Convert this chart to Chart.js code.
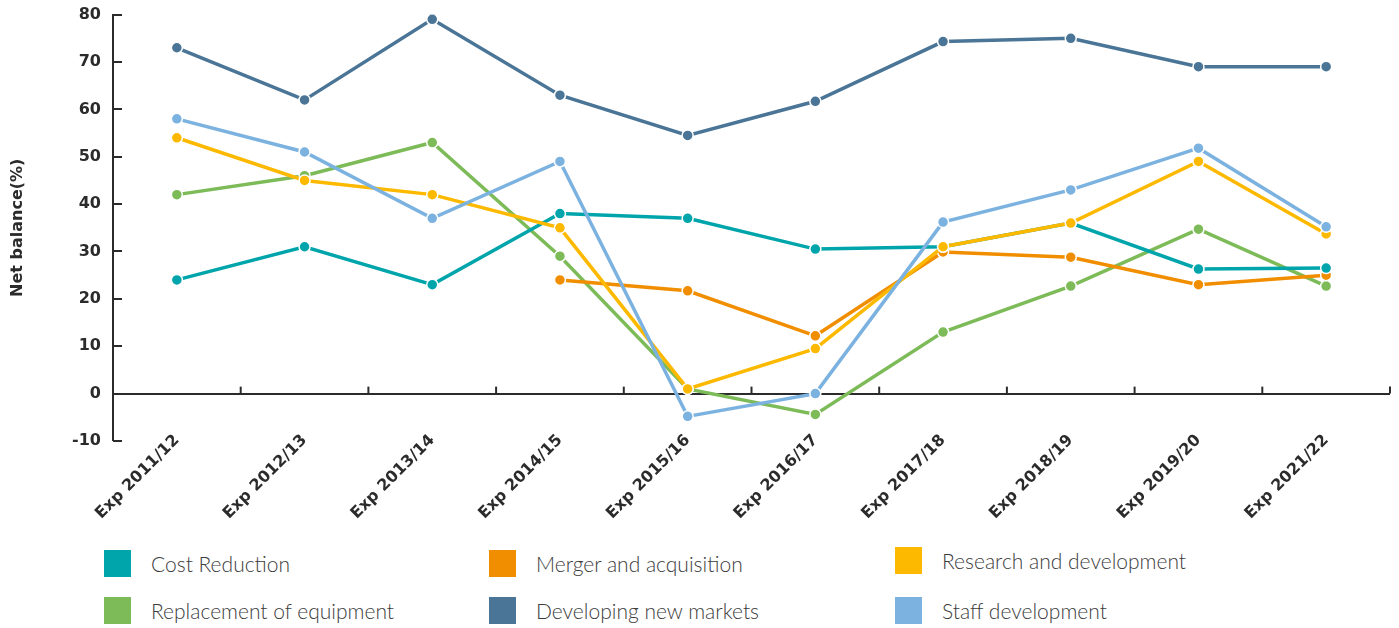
<!DOCTYPE html>
<html>
<head>
<meta charset="utf-8">
<script src="https://cdn.jsdelivr.net/npm/chart.js@4"></script>
<style>
  html, body { margin: 0; padding: 0; background: #fff; }
  #wrap { position: relative; width: 1399px; height: 547px; margin-top: -7px; }
  #legend { position: relative; width: 1399px; height: 88px; font-family: Lato, "Noto Sans", sans-serif; font-weight: 300; font-size: 21px; color: #3c3c3c; }
  .item { position: absolute; display: flex; align-items: center; }
  .sw { width: 27px; height: 27px; margin-right: 20px; }
</style>
</head>
<body>
<div id="wrap"><canvas id="chart"></canvas></div>
<div id="legend"></div>
<script>
// ===== data =====
const categories = ['Exp 2011/12','Exp 2012/13','Exp 2013/14','Exp 2014/15','Exp 2015/16','Exp 2016/17','Exp 2017/18','Exp 2018/19','Exp 2019/20','Exp 2021/22'];
const costReduction   = [24, 31, 23, 38, 37, 30.5, 31, 36, 26.3, 26.5];
const mergerAcq       = [null, null, null, 24, 21.7, 12.2, 29.9, 28.8, 23, 25];
const researchDev     = [54, 45, 42, 35, 1, 9.5, 31, 36, 49, 33.7];
const replacementEq   = [42, 46, 53, 29, 1, -4.4, 13, 22.7, 34.7, 22.7];
const newMarkets      = [73, 62, 79, 63, 54.5, 61.7, 74.3, 75, 69, 69];
const staffDev        = [58, 51, 37, 49, -4.8, 0, 36.2, 43, 51.8, 35.2];
const yTicks = [-10, 0, 10, 20, 30, 40, 50, 60, 70, 80];

const seriesNames  = ['Cost Reduction','Merger and acquisition','Research and development','Replacement of equipment','Developing new markets','Staff development'];
const seriesColors = ['#00a5ac','#f18e00','#fcb900','#7cbb58','#4a7596','#7bb2e0'];
const seriesData   = [costReduction, mergerAcq, researchDev, replacementEq, newMarkets, staffDev];

const FONT = '"DejaVu Sans", sans-serif';
const AXIS = '#2b2b2b';

// short tick marks: y ticks inside the left axis, x ticks above the zero line
const axisMarks = {
    id: 'axisMarks',
    afterDatasetsDraw(chart) {
        const ctx = chart.ctx, x = chart.scales.x, y = chart.scales.y;
        const ca = chart.chartArea;
        ctx.save();
        ctx.strokeStyle = AXIS;
        ctx.lineWidth = 2;
        yTicks.forEach(v => {
            const py = Math.round(y.getPixelForValue(v));
            ctx.beginPath(); ctx.moveTo(ca.left, py); ctx.lineTo(ca.left + 9, py); ctx.stroke();
        });
        const y0 = y.getPixelForValue(0);
        for (let i = 0; i < categories.length; i++) {
            const px = (x.getPixelForValue(i) + (i < categories.length - 1 ? x.getPixelForValue(i + 1) : 2 * x.getPixelForValue(i) - x.getPixelForValue(i - 1))) / 2;
            ctx.beginPath(); ctx.moveTo(px, y0); ctx.lineTo(px, y0 - 7); ctx.stroke();
        }
        ctx.restore();
    }
};

const ctx = document.getElementById('chart').getContext('2d');
const chart = new Chart(ctx, {
    type: 'line',
    data: {
        labels: categories,
        datasets: seriesData.map((d, i) => ({
            label: seriesNames[i],
            data: d,
            borderColor: seriesColors[i],
            backgroundColor: seriesColors[i],
            pointBackgroundColor: seriesColors[i],
            pointBorderColor: '#fff',
            pointBorderWidth: 1.5,
            pointRadius: 5.5,
            borderWidth: 3.5,
            tension: 0,
            spanGaps: false,
            order: [3, 4, 2, 5, 1, 0][i]
        }))
    },
    options: {
        responsive: true,
        maintainAspectRatio: false,
        animation: false,
        layout: { padding: { top: 3, right: 9, left: 0, bottom: 0 } },
        plugins: { legend: { display: false }, tooltip: { enabled: false } },
        scales: {
            x: {
                offset: true,
                grid: { display: false, drawTicks: false },
                border: { display: false },
                ticks: {
                    autoSkip: false, maxRotation: 45, minRotation: 45,
                    color: AXIS, padding: -10,
                    font: { family: FONT, size: 16, weight: 'bold' }
                },
                afterFit(scale) {
                    scale.height = 99;
                    // labels sit slightly over the axis box, so don't clip them
                    scale._computeLabelArea = () => undefined;
                }
            },
            y: {
                min: -10, max: 80,
                afterBuildTicks(scale) { scale.ticks = yTicks.map(v => ({ value: v })); },
                grid: {
                    drawTicks: false,
                    color: c => c.tick && c.tick.value === 0 ? AXIS : 'rgba(0,0,0,0)',
                    lineWidth: c => c.tick && c.tick.value === 0 ? 2 : 0
                },
                border: { display: true, color: AXIS, width: 2 },
                ticks: { color: AXIS, padding: 12, font: { family: FONT, size: 16, weight: 'bold' } },
                title: { display: true, text: 'Net balance(%)', color: AXIS, padding: { top: 8, bottom: 8 }, font: { family: FONT, size: 16, weight: 'bold' } },
                afterFit(scale) { scale.width = 113; }
            }
        }
    },
    plugins: [axisMarks]
});

// legend, 3 columns x 2 rows
const legendPos = [[104, 10], [489, 10], [895, 7], [104, 57], [489, 57], [895, 57]];
const legend = document.getElementById('legend');
seriesNames.forEach((name, s) => {
    const el = document.createElement('div');
    el.className = 'item';
    el.style.left = legendPos[s][0] + 'px';
    el.style.top = legendPos[s][1] + 'px';
    el.innerHTML = '<span class="sw" style="background:' + seriesColors[s] + '"></span><span>' + name + '</span>';
    legend.appendChild(el);
});
</script>
</body>
</html>
